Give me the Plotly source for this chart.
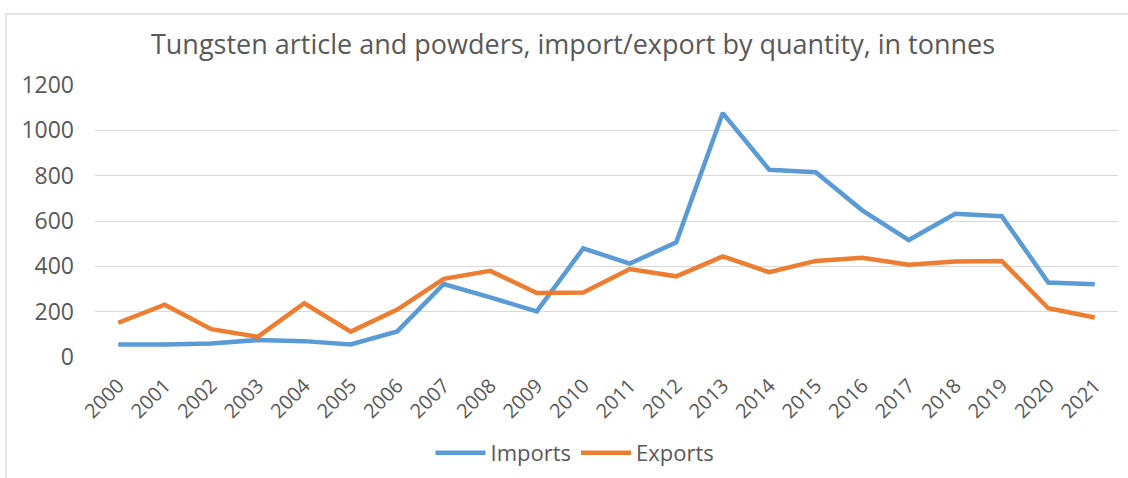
import plotly.graph_objects as go

years = [str(y) for y in range(2000, 2022)]
imports = [55, 55, 60, 75, 70, 55, 113, 322, 263, 201, 479, 412, 506, 1076, 826, 815, 647, 516, 632, 621, 329, 321]
exports = [151, 231, 123, 89, 237, 112, 209, 345, 380, 282, 285, 388, 356, 444, 374, 424, 438, 407, 421, 424, 215, 174]
y_ticks = [0, 200, 400, 600, 800, 1000, 1200]

FONT = "Open Sans"
GREY = "#595959"

fig = go.Figure()
fig.add_trace(go.Scatter(x=years, y=imports, mode="lines", name="Imports",
                         line=dict(color="#5B9BD5", width=4.5)))
fig.add_trace(go.Scatter(x=years, y=exports, mode="lines", name="Exports",
                         line=dict(color="#ED7D31", width=4.5)))

W, H = 1128, 478
L, R, T, B = 95, 10, 85, 121
pw, ph = W - L - R, H - T - B

fig.update_layout(
    width=W, height=H,
    margin=dict(l=L, r=R, t=T, b=B, autoexpand=False),
    paper_bgcolor="white", plot_bgcolor="white",
    font=dict(family=FONT, color=GREY, size=16),
    title=dict(text="Tungsten article and powders, import/export by quantity, in tonnes",
               x=0.508, xref="container", xanchor="center",
               y=1 - 45 / H, yref="container", yanchor="middle",
               font=dict(family=FONT, size=27, color=GREY)),
    xaxis=dict(type="category", range=[-0.5, len(years) - 0.5], tickangle=-45,
               showgrid=False, zeroline=False, showline=False, ticks="",
               automargin=False,
               ticklabelstandoff=12, tickfont=dict(size=20, color=GREY)),
    yaxis=dict(range=[0, 1200], tickvals=y_ticks, ticktext=[str(v) for v in y_ticks],
               showgrid=True, gridcolor="#D9D9D9", gridwidth=1.3, zeroline=False,
               showline=False, ticks="", ticklabelstandoff=20, automargin=False,
               tickfont=dict(size=23, color=GREY)),
    legend=dict(orientation="h", x=(575 - L) / pw, xanchor="center", y=(357 - 453) / ph,
                yanchor="middle", font=dict(size=22, color=GREY),
                itemwidth=50, bgcolor="rgba(0,0,0,0)"),
    showlegend=True,
    shapes=[dict(type="rect", xref="paper", yref="paper",
                 x0=(6 - L) / pw, x1=1.2, y0=-1.0, y1=(357 - 14) / ph,
                 line=dict(color="#D9D9D9", width=1.3), layer="below")],
)

fig.write_html("out.html", config={"displayModeBar": False},
               post_script="document.body.style.margin='0';")
